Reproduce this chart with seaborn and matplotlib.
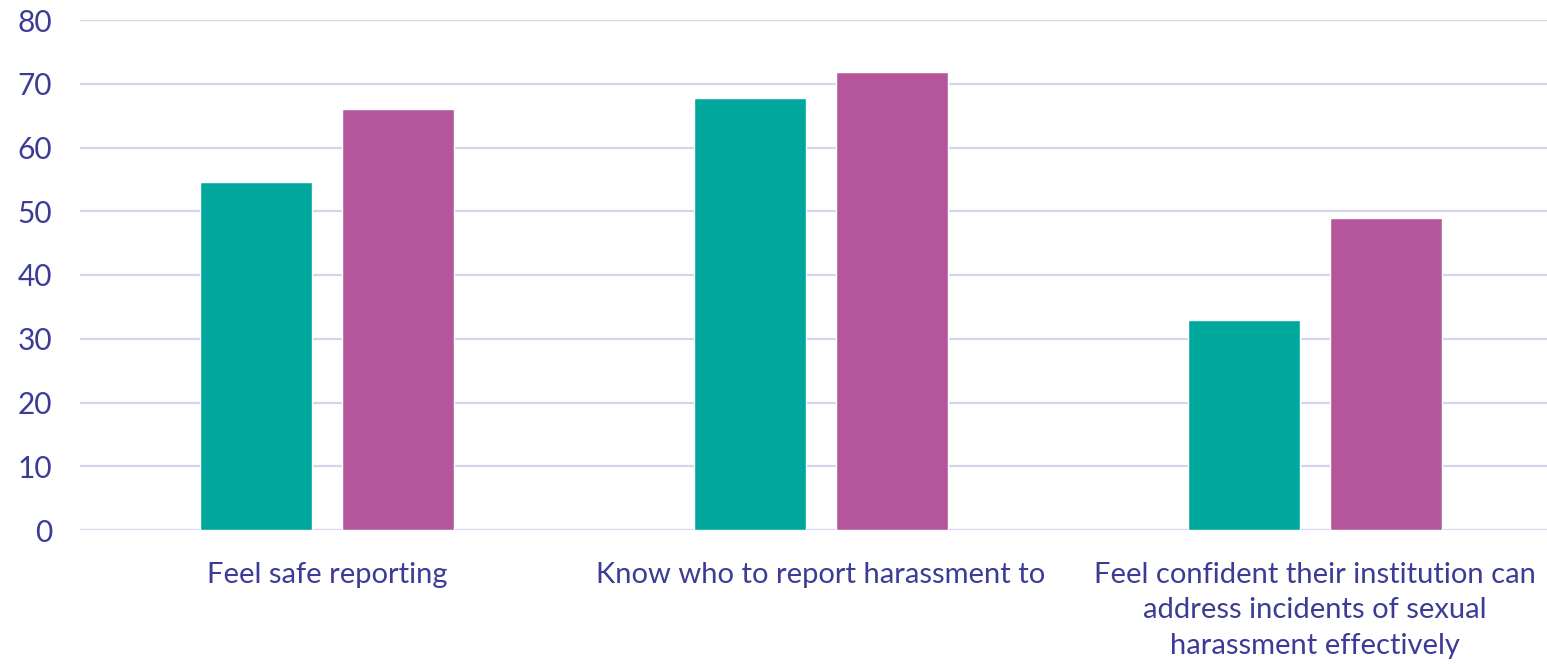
import matplotlib
matplotlib.use("Agg")
import matplotlib.pyplot as plt
import seaborn as sns
import pandas as pd

categories = ["Feel safe reporting",
              "Know who to report harassment to",
              "Feel confident their institution can\naddress incidents of sexual\nharassment effectively"]
series_names = ["Group A", "Group B"]
series_a = [54.6, 67.7, 33.0]
series_b = [66.0, 71.9, 48.9]
colors = ["#00A79D", "#B5569D"]
yticks = [0, 10, 20, 30, 40, 50, 60, 70, 80]

df = pd.DataFrame({
    "category": categories * 2,
    "series": [series_names[0]] * 3 + [series_names[1]] * 3,
    "value": series_a + series_b,
})

sns.set_theme(style="white")
plt.rcParams["font.family"] = ["Lato", "DejaVu Sans"]
text_color = "#3C3C96"

fig = plt.figure(figsize=(15.47, 6.64), dpi=100)
ax = fig.add_axes([80 / 1547, 1 - 530 / 664, 1467 / 1547, 510 / 664])

sns.barplot(data=df, x="category", y="value", hue="series", order=categories,
            hue_order=series_names, palette=colors, width=0.576, gap=0.21,
            saturation=1, legend=False, ax=ax)

ax.set_ylim(0, 80)
ax.set_xlim(-0.5, 2.47)
ax.set_yticks(yticks)
ax.yaxis.grid(True, color="#D4D4EC", linewidth=1.6)
ax.set_axisbelow(True)
for s in ax.spines.values():
    s.set_visible(False)
ax.set_xlabel("")
ax.set_ylabel("")
ax.tick_params(axis="y", length=0, pad=20, labelsize=21.5, labelcolor=text_color)
ax.tick_params(axis="x", length=0, pad=23, labelsize=21, labelcolor=text_color)
for lbl in ax.get_xticklabels():
    lbl.set_linespacing(1.45)
    lbl.set_horizontalalignment("center")

fig.savefig("out.png", dpi=100, facecolor="white")
